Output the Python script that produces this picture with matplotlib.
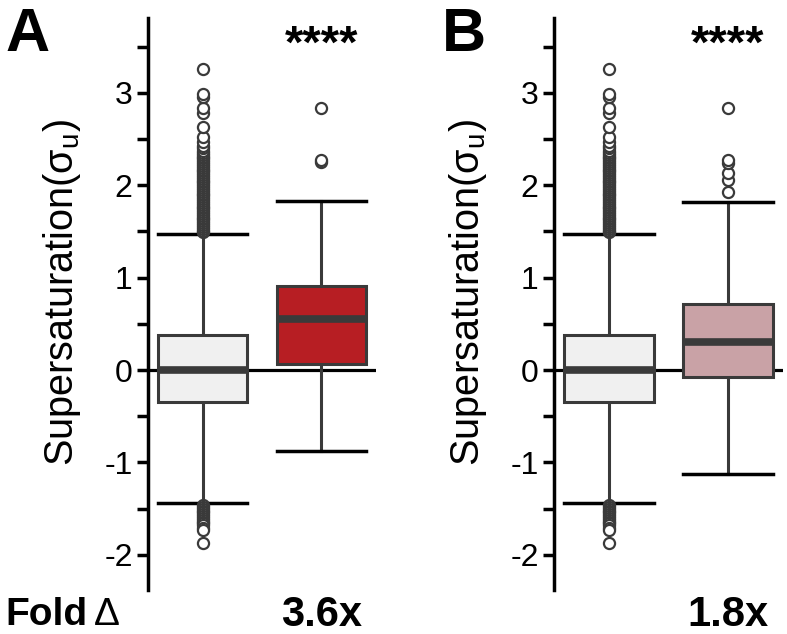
import matplotlib
matplotlib.use("Agg")
import matplotlib.pyplot as plt

plt.rcParams["font.family"] = ["Liberation Sans", "DejaVu Sans"]
plt.rcParams["axes.unicode_minus"] = False

# ── data ────────────────────────────────────────────────────────
# control distribution (same in both panels)
ctrl_q1, ctrl_med, ctrl_q3 = -0.35, 0.0, 0.38
ctrl_whislo, ctrl_whishi = -1.44, 1.47
ctrl_fliers_hi = [1.49, 1.51, 1.53, 1.55, 1.57, 1.59, 1.61, 1.63, 1.65, 1.67,
                  1.69, 1.71, 1.73, 1.75, 1.77, 1.79, 1.81, 1.83, 1.85, 1.87,
                  1.89, 1.91, 1.93, 1.95, 1.97, 1.99, 2.01, 2.03, 2.05, 2.07,
                  2.09, 2.11, 2.13, 2.15, 2.17, 2.19, 2.21, 2.23, 2.25, 2.27,
                  2.29, 2.31, 2.33, 2.35, 2.37, 2.40, 2.43, 2.47, 2.52, 2.63,
                  2.78, 2.84, 2.95, 2.99, 3.26]
ctrl_fliers_lo = [-1.46, -1.48, -1.50, -1.52, -1.54, -1.56, -1.58, -1.60,
                  -1.62, -1.64, -1.66, -1.68, -1.71, -1.73, -1.87]

# panel A: test group
a_q1, a_med, a_q3 = 0.07, 0.55, 0.91
a_whislo, a_whishi = -0.88, 1.83
a_fliers = [2.25, 2.27, 2.84]

# panel B: test group
b_q1, b_med, b_q3 = -0.08, 0.30, 0.72
b_whislo, b_whishi = -1.13, 1.82
b_fliers = [1.93, 2.06, 2.13, 2.24, 2.27, 2.84]

panel_labels = ["A", "B"]
fold_labels = ["3.6x", "1.8x"]
signif = ["****", "****"]
test_colors = ["#b71e23", "#c9a2a6"]
ctrl_color = "#f0f0f0"
yticks_major = [-2, -1, 0, 1, 2, 3]
yticks_minor = [-1.5, -0.5, 0.5, 1.5, 2.5, 3.5]

DARK = "#3a3a3a"
W, H = 787, 634


def stats(q1, med, q3, lo, hi, fliers):
    return dict(q1=q1, med=med, q3=q3, whislo=lo, whishi=hi, fliers=fliers)


ctrl = stats(ctrl_q1, ctrl_med, ctrl_q3, ctrl_whislo, ctrl_whishi,
             ctrl_fliers_hi + ctrl_fliers_lo)
tests = [stats(a_q1, a_med, a_q3, a_whislo, a_whishi, a_fliers),
         stats(b_q1, b_med, b_q3, b_whislo, b_whishi, b_fliers)]

fig = plt.figure(figsize=(W / 100, H / 100), dpi=100)

axes_px = [(148, 228), (554, 229)]
top_px, bot_px = 18, 590
label_x_px = [5, 442]

for i, (x0, w) in enumerate(axes_px):
    ax = fig.add_axes([x0 / W, 1 - bot_px / H, w / W, (bot_px - top_px) / H])
    ax.set_xlim(0, 1)
    ax.set_ylim(-2.38, 3.81)
    ax.axhline(0, color="black", lw=2.3, zorder=1)

    res = ax.bxp([ctrl, tests[i]], positions=[0.24, 0.76], widths=0.39,
                 capwidths=0.39, patch_artist=True, manage_ticks=False,
                 boxprops=dict(edgecolor=DARK, linewidth=2.2),
                 medianprops=dict(color=DARK, linewidth=5.5, solid_capstyle="butt"),
                 whiskerprops=dict(color=DARK, linewidth=2.2),
                 capprops=dict(color="black", linewidth=2.5),
                 flierprops=dict(marker="o", markerfacecolor="white",
                                 markeredgecolor=DARK, markersize=8,
                                 markeredgewidth=1.6))
    for box, fc in zip(res["boxes"], [ctrl_color, test_colors[i]]):
        box.set_facecolor(fc)
        box.set_zorder(3)
    for m in res["medians"]:
        m.set_zorder(4)

    for s in ["top", "right", "bottom"]:
        ax.spines[s].set_visible(False)
    ax.spines["left"].set_linewidth(2.5)
    ax.set_xticks([])
    ax.set_yticks(yticks_major)
    ax.set_yticks(yticks_minor, minor=True)
    ax.set_yticklabels([str(t) for t in yticks_major])
    ax.tick_params(axis="y", which="both", direction="out", length=8,
                   width=2.5, labelsize=23, pad=3)
    ax.set_ylabel("Supersaturation(σ$_\\mathregular{u}$)", fontsize=28.5)
    ax.yaxis.set_label_coords((83 - 148) / 228, 0.52)

    xc = (x0 + 0.76 * w) / W
    fig.text(xc, 1 - 46 / H, signif[i], ha="center", va="center",
             fontsize=34, fontweight="bold")
    fig.text(xc, 1 - 615 / H, fold_labels[i], ha="center", va="center",
             fontsize=30, fontweight="bold")
    fig.text(label_x_px[i] / W, 1 - 51 / H, panel_labels[i], ha="left",
             va="baseline", fontsize=44, fontweight="bold")

fig.text(5 / W, 1 - 615 / H, "Fold", ha="left", va="center",
         fontsize=28, fontweight="bold")
fig.text(94 / W, 1 - 615 / H, "Δ", ha="left", va="center", fontsize=28)

fig.savefig("out.png", dpi=100, facecolor="white")
